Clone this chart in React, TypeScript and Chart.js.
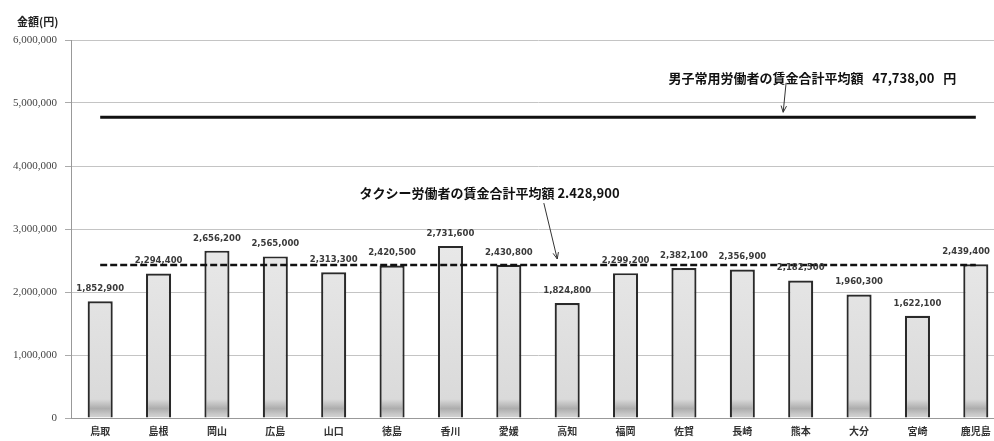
import React, { useEffect, useRef } from "react";
import { Chart, registerables } from "chart.js";

Chart.register(...registerables);

const categories = ["鳥取", "島根", "岡山", "広島", "山口", "徳島", "香川", "愛媛", "高知", "福岡", "佐賀", "長崎", "熊本", "大分", "宮崎", "鹿児島"];
const wages = [1852900, 2294400, 2656200, 2565000, 2313300, 2420500, 2731600, 2430800, 1824800, 2299200, 2382100, 2356900, 2182500, 1960300, 1622100, 2439400];
const taxiAvg = 2428900;
const maleAvg = 4773800;
const taxiLabel = "タクシー労働者の賃金合計平均額 2.428,900";
const maleLabel = "男子常用労働者の賃金合計平均額   47,738,00   円";
const yTitle = "金額(円)";
const yMax = 6000000;
const yStep = 1000000;

const fmt = (v: number) => v.toLocaleString("en-US");
const VISIBLE_RIGHT = 990;

function drawArrow(ctx: CanvasRenderingContext2D, x1: number, y1: number, x2: number, y2: number) {
  ctx.save();
  ctx.strokeStyle = "#333";
  ctx.lineWidth = 1;
  ctx.beginPath();
  ctx.moveTo(x1, y1);
  ctx.lineTo(x2, y2);
  ctx.stroke();
  const a = Math.atan2(y2 - y1, x2 - x1);
  const h = 7;
  ctx.beginPath();
  ctx.moveTo(x2 - h * Math.cos(a - 0.4), y2 - h * Math.sin(a - 0.4));
  ctx.lineTo(x2, y2);
  ctx.lineTo(x2 - h * Math.cos(a + 0.4), y2 - h * Math.sin(a + 0.4));
  ctx.stroke();
  ctx.restore();
}

const annotationPlugin = {
  id: "annots",
  afterDatasetsDraw(chart: any) {
    const { ctx, chartArea, scales } = chart;
    const xs = scales.x;
    const ys = scales.y;
    const cw = (xs.getPixelForValue(1) - xs.getPixelForValue(0));
    // value labels
    const meta = chart.getDatasetMeta(0);
    ctx.save();
    ctx.font = "bold 8.5px 'DejaVu Sans'";
    ctx.fillStyle = "#3a3a3a";
    ctx.textAlign = "center";
    ctx.textBaseline = "bottom";
    meta.data.forEach((bar: any, i: number) => {
      const t = fmt(wages[i]);
      const w = ctx.measureText(t).width;
      const x = Math.min(bar.x, VISIBLE_RIGHT - w / 2);
      ctx.fillText(t, x, bar.y - 8);
    });
    // y title
    ctx.font = "bold 11px 'Noto Sans CJK JP'";
    ctx.fillStyle = "#222";
    ctx.textAlign = "left";
    ctx.textBaseline = "middle";
    ctx.fillText(yTitle, chartArea.left - 54, chartArea.top - 18);
    // taxi annotation
    ctx.font = "bold 13px 'Noto Sans CJK JP'";
    ctx.fillStyle = "#111";
    ctx.textAlign = "center";
    const tx = xs.getPixelForValue(7) - 0.33 * cw;
    const ty = ys.getPixelForValue(3570000);
    ctx.fillText(taxiLabel, tx, ty);
    const taxiY = ys.getPixelForValue(taxiAvg);
    drawArrow(ctx, xs.getPixelForValue(7) + 0.6 * cw, ty + 10, xs.getPixelForValue(8) - 0.17 * cw, taxiY - 6);
    // male annotation
    const mx = xs.getPixelForValue(12) + 0.2 * cw;
    const my = ys.getPixelForValue(5400000);
    ctx.fillText(maleLabel, mx, my);
    const maleY = ys.getPixelForValue(maleAvg);
    drawArrow(ctx, xs.getPixelForValue(11) + 0.75 * cw, my + 5, xs.getPixelForValue(11) + 0.7 * cw, maleY - 5);
    ctx.restore();
  },
};

export default function App() {
  const ref = useRef<HTMLCanvasElement>(null);
  useEffect(() => {
    if (!ref.current) return;
    const chart = new Chart(ref.current, {
      type: "bar",
      data: {
        labels: categories,
        datasets: [
          {
            type: "bar",
            data: wages,
            order: 2,
            backgroundColor: (c: any) => {
              const ca = c.chart.chartArea;
              if (!ca) return "#e0e0e0";
              const g = c.chart.ctx.createLinearGradient(0, ca.top, 0, ca.bottom);
              g.addColorStop(0, "#fafafa");
              g.addColorStop(0.55, "#e8e8e8");
              g.addColorStop(0.95, "#dadada");
              g.addColorStop(0.975, "#adadad");
              g.addColorStop(0.99, "#c8c8c8");
              g.addColorStop(1, "#d4d4d4");
              return g;
            },
            borderColor: "#2a2a2a",
            borderWidth: 2.2,
            barPercentage: 0.86,
            categoryPercentage: 0.5,
          } as any,
          {
            type: "line",
            data: categories.map(() => taxiAvg),
            order: 0,
            borderColor: "#111",
            borderWidth: 2.5,
            borderDash: [7, 3],
            pointRadius: 0,
            fill: false,
          } as any,
          {
            type: "line",
            data: categories.map(() => maleAvg),
            order: 0,
            borderColor: "#111",
            borderWidth: 3,
            pointRadius: 0,
            fill: false,
          } as any,
        ],
      },
      options: {
        responsive: false,
        animation: false,
        layout: { padding: { top: 40, right: 0, bottom: 0, left: 0 } },
        plugins: { legend: { display: false }, tooltip: { enabled: false } },
        scales: {
          x: {
            grid: { display: false, drawTicks: false },
            border: { display: true, color: "#999", width: 1 },
            ticks: {
              font: { family: "'Noto Sans CJK JP'", size: 10, weight: "bold" },
              color: "#333",
              padding: 7,
              maxRotation: 0,
              autoSkip: false,
            },
            afterFit: (s: any) => { s.height = 23; },
          },
          y: {
            min: 0,
            max: yMax,
            ticks: {
              stepSize: yStep,
              font: { family: "'Liberation Serif'", size: 11 },
              color: "#444",
              padding: 8,
              callback: (v: any) => fmt(Number(v)),
            },
            grid: { color: "#c4c4c4", lineWidth: 1, drawTicks: true, tickLength: 6, tickColor: "#aaa" },
            border: { display: true, color: "#999", width: 1 },
            afterFit: (s: any) => { s.width = 71; },
          },
        },
      },
      plugins: [annotationPlugin],
    });
    return () => chart.destroy();
  }, []);
  return (
    <div style={{ position: "fixed", left: 0, top: 0, width: 994, height: 441, overflow: "hidden", background: "#fff" }}>
      <canvas ref={ref} width={1005} height={441} style={{ width: 1005, height: 441, display: "block" }} />
    </div>
  );
}
